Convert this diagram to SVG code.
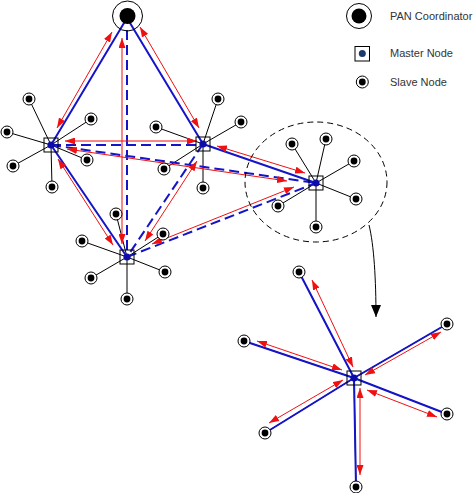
<svg xmlns="http://www.w3.org/2000/svg" width="473" height="493" viewBox="0 0 473 493">
<style>
.bg{fill:#fff}
.sl{stroke:#000;stroke-width:1;fill:none}
.bs{stroke:#1414c8;stroke-width:2;fill:none}
.bd{stroke:#1414c8;stroke-width:2;fill:none;stroke-dasharray:10 5}
.ra{stroke:#f01010;stroke-width:1;fill:none;marker-start:url(#rh);marker-end:url(#rh)}
.so{fill:#fff;stroke:#000;stroke-width:1}
.si{fill:#000}
.mb{fill:none;stroke:#000;stroke-width:1}
.md{fill:#0c0ca8}
.lt{font-family:"Liberation Sans",Arial,sans-serif;font-size:11px;fill:#333}
</style>
<defs>
<marker id="rh" markerUnits="userSpaceOnUse" markerWidth="10" markerHeight="7" refX="10" refY="3.5" orient="auto-start-reverse" viewBox="0 0 10 7"><path d="M0,0 L10,3.5 L0,7 z" fill="#f01010"/></marker>
<marker id="bk" markerUnits="userSpaceOnUse" markerWidth="12" markerHeight="10" refX="12" refY="5" orient="auto" viewBox="0 0 12 10"><path d="M0,0 L12,5 L0,10 z" fill="#000"/></marker>
<g id="slave"><circle class="so" r="6"/><circle class="si" r="3.4"/></g>
</defs>
<rect class="bg" width="473" height="493"/>

<g id="connectors">
<path class="sl" d="M51,145L29,99M51,145L91,119M51,145L7,132M51,145L87,160M51,145L13,166M51,145L52,187"/>
<path class="sl" d="M203,144L218,99M203,144L241,122M203,144L156,127M203,144L164,169M203,144L203,188"/>
<path class="sl" d="M127,257L116,214M127,257L163,234M127,257L82,241M127,257L165,272M127,257L91,278M127,257L127,299"/>
<path class="sl" d="M316,183L292,144M316,183L326,139M316,183L354,161M316,183L356,199M316,183L278,206M316,183L316,227"/>
<path class="sl" d="M354,378L299,272M354,378L447,324M354,378L244,341M354,378L447,414M354,378L265,433M354,378L356,487"/>
<path class="bs" d="M127,18L51,145M127,18L203,144M203,144L316,183M51,145L127,257"/>
<path class="bd" d="M127,30L127,257M51,145L203,145M51,145L316,183M127,257L316,183M203,144L127,257"/>
<path class="bs" d="M354,378L299,272M354,378L447,324M354,378L244,341M354,378L447,414M354,378L265,433M354,378L356,487"/>
<path class="ra" d="M112,32L57,128"/>
<path class="ra" d="M140,27L199,128"/>
<path class="ra" d="M122,38L122,244"/>
<path class="ra" d="M65,141L197,141"/>
<path class="ra" d="M67,149L287,181"/>
<path class="ra" d="M217,146L305,173"/>
<path class="ra" d="M152,244L294,187"/>
<path class="ra" d="M197,161L145,241"/>
<path class="ra" d="M58,159L113,245"/>
<path class="ra" d="M312,280L353,367"/>
<path class="ra" d="M257,341L342,370"/>
<path class="ra" d="M441,332L365,375"/>
<path class="ra" d="M367,390L437,417"/>
<path class="ra" d="M343,380L269,423"/>
<path class="ra" d="M360,388L360,475"/>
<ellipse cx="316" cy="182" rx="71" ry="60" fill="none" stroke="#000" stroke-width="1" stroke-dasharray="6 4"/>
<path d="M369,225C374,245 376,280 376,317" fill="none" stroke="#000" stroke-width="1" marker-end="url(#bk)"/>
</g>

<g id="pan"><circle cx="127.5" cy="16" r="15" fill="none" stroke="#000"/><circle cx="127.5" cy="16" r="8" fill="#000"/></g>

<g id="masterA"><rect class="mb" x="44" y="138" width="14" height="14"/><circle class="md" cx="51" cy="145" r="3.6"/></g>
<g id="masterB"><rect class="mb" x="196" y="137" width="14" height="14"/><circle class="md" cx="203" cy="144" r="3.6"/></g>
<g id="masterD"><rect class="mb" x="120" y="250" width="14" height="14"/><circle class="md" cx="127" cy="257" r="3.6"/></g>
<g id="masterC"><rect class="mb" x="309" y="176" width="14" height="14"/><circle class="md" cx="316" cy="183" r="3.6"/></g>
<g id="masterE"><rect class="mb" x="347" y="371" width="14" height="14"/><circle class="md" cx="354" cy="378" r="3.6"/></g>

<g id="slavesA"><use href="#slave" x="29" y="99"/><use href="#slave" x="91" y="119"/><use href="#slave" x="7" y="132"/><use href="#slave" x="87" y="160"/><use href="#slave" x="13" y="166"/><use href="#slave" x="52" y="187"/></g>
<g id="slavesB"><use href="#slave" x="218" y="99"/><use href="#slave" x="241" y="122"/><use href="#slave" x="156" y="127"/><use href="#slave" x="164" y="169"/><use href="#slave" x="203" y="188"/></g>
<g id="slavesD"><use href="#slave" x="116" y="214"/><use href="#slave" x="163" y="234"/><use href="#slave" x="82" y="241"/><use href="#slave" x="165" y="272"/><use href="#slave" x="91" y="278"/><use href="#slave" x="127" y="299"/></g>
<g id="slavesC"><use href="#slave" x="292" y="144"/><use href="#slave" x="326" y="139"/><use href="#slave" x="354" y="161"/><use href="#slave" x="356" y="199"/><use href="#slave" x="278" y="206"/><use href="#slave" x="316" y="227"/></g>
<g id="slavesE"><use href="#slave" x="299" y="272"/><use href="#slave" x="447" y="324"/><use href="#slave" x="244" y="341"/><use href="#slave" x="447" y="414"/><use href="#slave" x="265" y="433"/><use href="#slave" x="356" y="487"/></g>

<g id="legend">
<circle cx="359" cy="16" r="12.5" fill="none" stroke="#000"/><circle cx="359" cy="16" r="7.5" fill="#000"/>
<text class="lt" x="390" y="20">PAN Coordinator</text>
<rect x="355" y="46.5" width="14.5" height="14.5" fill="none" stroke="#000"/><circle cx="362.3" cy="53.5" r="3.5" fill="#1c3a6e"/>
<text class="lt" x="390" y="57">Master Node</text>
<use href="#slave" x="362.3" y="82"/>
<text class="lt" x="390" y="86">Slave Node</text>
</g>
</svg>
